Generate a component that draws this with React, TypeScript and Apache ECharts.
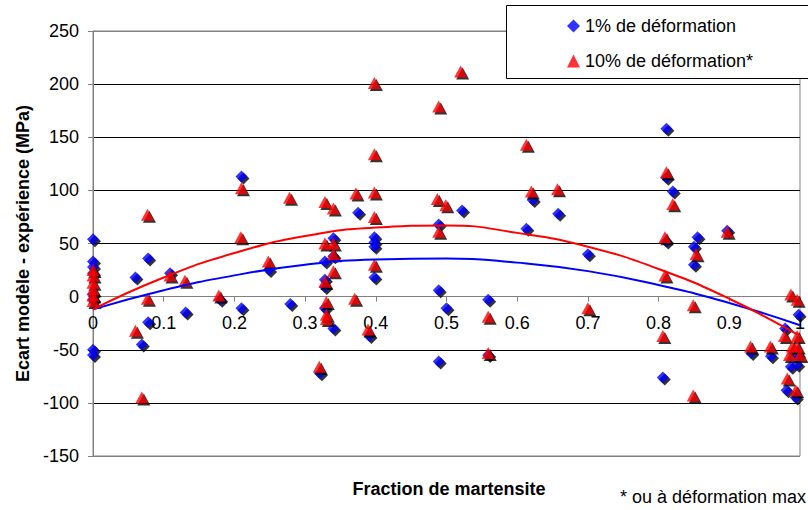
import React, { useEffect, useRef } from 'react';
import * as echarts from 'echarts';

const FONT = '"Liberation Sans", Arial, Helvetica, sans-serif';

const SERIES_1 = '1% de déformation';
const SERIES_10 = '10% de déformation*';

// [fraction de martensite, écart (MPa)] — 1% de déformation
const points1Pct: [number, number][] = [
  [0, 54], [0, 33], [0, 28], [0, 22], [0, 2], [0, -3], [0, -50], [0, -55],
  [0.06, 18], [0.069, -45], [0.078, 36], [0.078, -24], [0.109, 22], [0.131, -15],
  [0.18, -3], [0.21, 113], [0.21, -11], [0.249, 25], [0.279, -7],
  [0.321, -72], [0.328, 33], [0.328, 16], [0.328, 9], [0.328, -11], [0.34, 55], [0.34, 38], [0.34, -30],
  [0.375, 79], [0.391, -37], [0.398, 56], [0.398, 51], [0.398, 47], [0.398, 18],
  [0.489, 68], [0.489, 6], [0.489, -61], [0.5, -11], [0.522, 81], [0.559, -3], [0.559, -55],
  [0.613, 64], [0.622, 91], [0.658, 78], [0.7, 40],
  [0.806, -76], [0.811, 158], [0.811, 112], [0.811, 52], [0.82, 99],
  [0.85, 47], [0.85, 30], [0.855, 56], [0.897, 62],
  [0.931, -53], [0.959, -56], [0.979, -30], [0.981, -88], [0.987, -66], [0.994, -95],
  [0.996, -64], [0.998, -17], [0.997, -55],
];

// [fraction de martensite, écart (MPa)] — 10% de déformation (ou à déformation max)
const points10Pct: [number, number][] = [
  [0, 25], [0, 20], [0, 13], [0, 7], [0, 1], [0, -4],
  [0.06, -32], [0.069, -95], [0.077, 77], [0.077, -2], [0.109, 20], [0.13, 15],
  [0.178, 1], [0.209, 56], [0.21, 102], [0.248, 33], [0.278, 93],
  [0.32, -66], [0.328, 89], [0.328, 50], [0.328, 14], [0.33, -5], [0.33, -17], [0.33, -21],
  [0.34, 83], [0.34, 50], [0.34, 40], [0.34, 24],
  [0.37, -2], [0.372, 97], [0.389, -31], [0.398, 201], [0.398, 134], [0.398, 98], [0.398, 75], [0.398, 30],
  [0.487, 92], [0.489, 179], [0.489, 61], [0.499, 86], [0.52, 212], [0.559, -19], [0.559, -53],
  [0.613, 143], [0.62, 99], [0.657, 101], [0.7, -11],
  [0.806, -37], [0.809, 56], [0.809, 20], [0.811, 117], [0.82, 87],
  [0.849, -8], [0.849, -93], [0.853, 40], [0.897, 61],
  [0.93, -47], [0.958, -47], [0.978, -37], [0.982, -77], [0.985, -55], [0.987, 2], [0.989, -47],
  [0.994, -88], [0.996, -3], [0.996, -37], [0.996, -47], [1.0, -55],
];

// Polynomial trend lines
const trendX = [0, 0.1, 0.2, 0.3, 0.4, 0.5, 0.6, 0.7, 0.8, 0.9, 1.0];
const trend1Pct = [-12, 6, 20, 30, 35, 36, 32, 24, 11, -6, -27];
const trend10Pct = [-12, 18, 41, 57, 65, 67, 60, 47, 26, -2, -37];

const Y_MIN = -150;
const Y_MAX = 250;
const GRID_TOP = 31;
const GRID_BOTTOM = 54;
const HEIGHT = 510;

export default function App() {
  const ref = useRef<HTMLDivElement>(null);

  useEffect(() => {
    if (!ref.current) return;
    const chart = echarts.init(ref.current, null, { renderer: 'svg' });
    const plotH = HEIGHT - GRID_TOP - GRID_BOTTOM;
    // place the x axis on the y = 0 line (axis crosses at zero)
    const xAxisOffset = -((0 - Y_MIN) / (Y_MAX - Y_MIN)) * plotH;
    chart.setOption({
      animation: false,
      backgroundColor: '#ffffff',
      textStyle: { fontFamily: FONT, color: '#000' },
      grid: {
        left: 93, right: 2, top: GRID_TOP, bottom: GRID_BOTTOM,
        show: true, borderColor: '#808080', borderWidth: 1, backgroundColor: 'transparent',
      },
      xAxis: {
        type: 'value', min: 0, max: 1, interval: 0.1,
        position: 'bottom', offset: xAxisOffset,
        axisLine: { show: true, onZero: false, lineStyle: { color: '#808080', width: 1 } },
        axisTick: { show: true, length: 5, lineStyle: { color: '#808080' } },
        axisLabel: {
          fontSize: 18, color: '#000', margin: 17, fontFamily: FONT,
          formatter: (v: number) => String(Math.round(v * 10) / 10),
        },
        splitLine: { show: false },
      },
      yAxis: {
        type: 'value', min: Y_MIN, max: Y_MAX, interval: 50,
        axisLine: { show: true, onZero: false, lineStyle: { color: '#808080', width: 1 } },
        axisTick: { show: true, length: 5, lineStyle: { color: '#808080' } },
        axisLabel: { fontSize: 18, color: '#000', margin: 14, fontFamily: FONT },
        splitLine: {
          show: true,
          lineStyle: { color: ['#808080', '#000', '#000', '#000', '#000', '#000', '#000', '#000', '#808080'], width: 1 },
        },
        name: 'Ecart modèle - expérience (MPa)',
        nameLocation: 'middle',
        nameGap: 60,
        nameTextStyle: { fontSize: 18, fontWeight: 'bold', color: '#000', fontFamily: FONT },
      },
      legend: {
        show: true, orient: 'vertical', left: 567, top: 17, padding: 0,
        itemWidth: 13, itemHeight: 13, itemGap: 17, z: 10,
        data: [
          { name: SERIES_1, icon: 'diamond' },
          { name: SERIES_10, icon: 'triangle' },
        ],
        textStyle: { fontSize: 18, color: '#000', fontFamily: FONT, lineHeight: 18 },
      },
      graphic: [
        {
          type: 'rect', z: 8,
          shape: { x: 506.5, y: 5.5, width: 330, height: 73 },
          style: { fill: '#ffffff', stroke: '#000000', lineWidth: 1 },
        },
        {
          type: 'text', z: 8, x: 449, y: 489,
          style: {
            text: 'Fraction de martensite', fill: '#000',
            font: `bold 18px ${FONT}`, textAlign: 'center', textVerticalAlign: 'middle',
          },
        },
        {
          type: 'text', z: 8, x: 806, y: 497,
          style: {
            text: '* ou à déformation max', fill: '#000',
            font: `18px ${FONT}`, textAlign: 'right', textVerticalAlign: 'middle',
          },
        },
      ],
      series: [
        {
          type: 'scatter', name: 'shadow1', data: points1Pct, symbol: 'diamond', symbolSize: 12,
          symbolOffset: [2, 2], itemStyle: { color: '#000' }, silent: true, z: 2,
        },
        {
          type: 'scatter', name: SERIES_1, data: points1Pct, symbol: 'diamond', symbolSize: 12,
          itemStyle: { color: '#0000FF' }, z: 2,
        },
        {
          type: 'scatter', name: 'shadow10', data: points10Pct, symbol: 'triangle', symbolSize: [13, 12],
          symbolOffset: [2, 2], itemStyle: { color: '#000' }, silent: true, z: 2,
        },
        {
          type: 'scatter', name: SERIES_10, data: points10Pct, symbol: 'triangle', symbolSize: [13, 12],
          itemStyle: { color: '#FF0000' }, z: 2,
        },
        {
          type: 'line', name: 'trend1', data: trendX.map((x, i) => [x, trend1Pct[i]]),
          smooth: true, showSymbol: false, symbol: 'none',
          lineStyle: { color: '#0000FF', width: 2 }, z: 3,
        },
        {
          type: 'line', name: 'trend10', data: trendX.map((x, i) => [x, trend10Pct[i]]),
          smooth: true, showSymbol: false, symbol: 'none',
          lineStyle: { color: '#FF0000', width: 2 }, z: 3,
        },
      ],
    });
    return () => chart.dispose();
  }, []);

  return (
    <div
      ref={ref}
      style={{ position: 'absolute', left: 0, top: 0, width: 808, height: 510, background: '#fff' }}
    />
  );
}
